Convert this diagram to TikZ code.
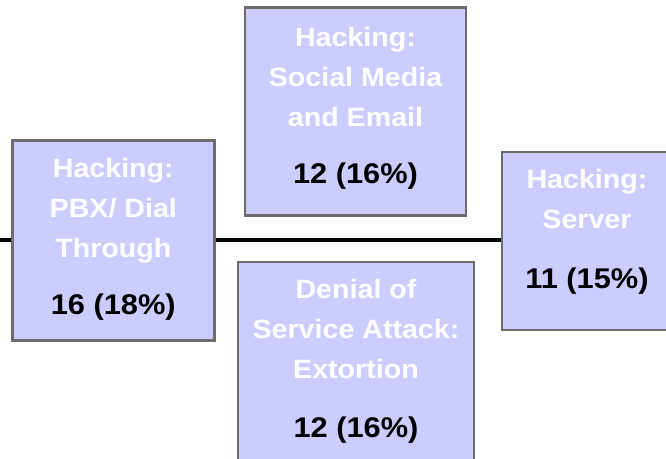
\documentclass[tikz,border=0pt]{standalone}
\usepackage{fontspec}
\usetikzlibrary{backgrounds}
\newfontfamily\lblfont{Liberation Sans}[FakeStretch=1.08]
\definecolor{boxfill}{HTML}{CCCCFF}
\definecolor{boxedge}{HTML}{6C6C6C}
\tikzset{
  catbox/.style={draw=boxedge, line width=2.5pt, fill=boxfill, inner sep=0pt},
  cattitle/.style={anchor=north, inner sep=0pt, align=center, text=white,
    font=\lblfont\bfseries\fontsize{26.5}{40}\selectfont},
  catcount/.style={anchor=base, inner sep=0pt, text=black,
    font=\lblfont\bfseries\fontsize{28.5}{34}\selectfont},
  spine/.style={line width=4.5pt, black}
}
\begin{document}
\begin{tikzpicture}[x=1pt, y=-1pt]
  \useasboundingbox (0,0) rectangle (666,458);

  % category boxes
  \node[catbox, minimum width=202pt, minimum height=200pt] (pbx) at (113.3,240.5) {};
  \node[catbox, minimum width=170pt, minimum height=178pt] (srv) at (587,241) {};
  \node[catbox, minimum width=221pt, minimum height=208pt] (social) at (355.5,111.5) {};
  \node[catbox, minimum width=236pt, minimum height=208pt] (dos) at (356,366) {};

  % timeline spine behind the boxes
  \coordinate (spinestart) at (0,240);
  \begin{pgfonlayer}{background}
    \draw[spine] (spinestart) -- (spinestart -| pbx.west);
    \draw[spine] (pbx.east |- spinestart) -- (spinestart -| srv.west);
  \end{pgfonlayer}

  % titles and counts
  \node[cattitle] (pbxtitle) at (113.3,158) {Hacking:\\PBX/ Dial\\Through};
  \node[catcount] (pbxcount) at (113.3,314) {16 (18\%)};

  \node[cattitle] (socialtitle) at (355.5,27) {Hacking:\\Social Media\\and Email};
  \node[catcount] (socialcount) at (355.5,183) {12 (16\%)};

  \node[cattitle] (dostitle) at (356,279) {Denial of\\Service Attack:\\Extortion};
  \node[catcount] (doscount) at (356,437) {12 (16\%)};

  \node[cattitle] (srvtitle) at (587,169) {Hacking:\\Server};
  \node[catcount] (srvcount) at (587,288) {11 (15\%)};
\end{tikzpicture}
\end{document}
